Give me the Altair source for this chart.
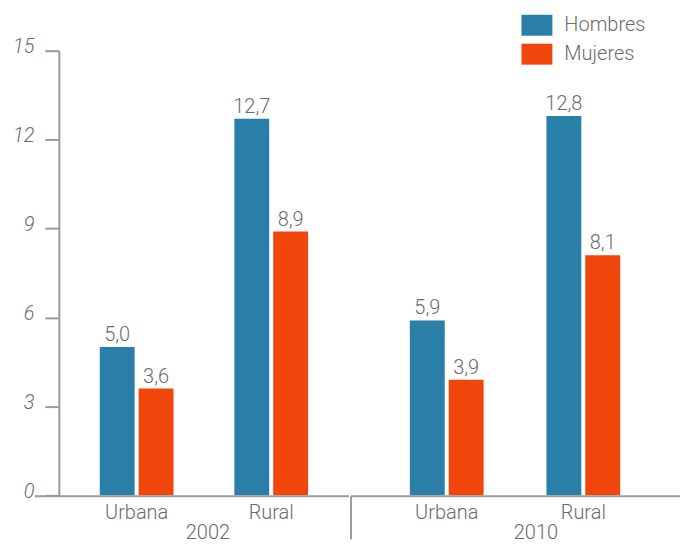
import altair as alt
import pandas as pd

anios = ["2002", "2010"]
zonas = ["Urbana", "Rural"]
sexos = ["Hombres", "Mujeres"]
# order: (2002 Urbana, 2002 Rural, 2010 Urbana, 2010 Rural)
hombres = [5.0, 12.7, 5.9, 12.8]
mujeres = [3.6, 8.9, 3.9, 8.1]
y_ticks = [0, 3, 6, 9, 12, 15]

rows = []
i = 0
for a in anios:
    for z in zonas:
        rows.append({"anio": a, "zona": z, "sexo": "Hombres", "valor": hombres[i]})
        rows.append({"anio": a, "zona": z, "sexo": "Mujeres", "valor": mujeres[i]})
        i += 1
df = pd.DataFrame(rows)

FONT = "Roboto"
FW = 300
FS = 20
GRAY = "#6b6b6b"
LINE = "#9a9a9a"
BLUE = "#2a7fa9"
ORANGE = "#f0450b"
H = 446
YSCALE = alt.Scale(domain=[0, 15], nice=False)


def panel(year, width, x_scale, show_y, title_x):
    d = df[df["anio"] == year]
    base = alt.Chart(d)
    y_axis = None
    if show_y:
        y_axis = alt.Axis(
            values=y_ticks, title=None, grid=False,
            domainColor=LINE, domainWidth=2, tickColor=LINE, tickWidth=2,
            tickSize=14, labelFontStyle="italic", labelColor=GRAY,
            labelFontSize=FS, labelFont=FONT, labelFontWeight=FW,
            labelPadding=11, labelOffset=-4,
        )
    bars = base.mark_bar().encode(
        x=alt.X("zona:N", sort=zonas, scale=x_scale,
                axis=alt.Axis(title=year, labelAngle=0, domain=False, ticks=False,
                              labelFontSize=FS, labelColor=GRAY, labelFont=FONT,
                              labelFontWeight=FW, labelPadding=7,
                              titleFontSize=FS, titleFontWeight=FW, titleFont=FONT,
                              titleColor=GRAY, titlePadding=0, titleX=title_x)),
        xOffset=alt.XOffset("sexo:N", sort=sexos,
                            scale=alt.Scale(paddingInner=0.103, paddingOuter=0)),
        y=alt.Y("valor:Q", scale=YSCALE, axis=y_axis),
        color=alt.Color("sexo:N", scale=alt.Scale(domain=sexos, range=[BLUE, ORANGE]),
                        legend=alt.Legend(
                            title=None, orient="none", legendX=469, legendY=-36,
                            symbolType="M-1.476,-1H1.476V1H-1.476Z", symbolSize=441,
                            symbolStrokeWidth=0, labelFontSize=FS, labelColor=GRAY,
                            labelFont=FONT, labelFontWeight=FW, labelOffset=17,
                            rowPadding=8, padding=0)),
    )
    labels = base.transform_calculate(
        etiqueta="replace(format(datum.valor, '.1f'), '.', ',')"
    ).mark_text(baseline="alphabetic", dy=-6, fontSize=FS, font=FONT, fontWeight=FW,
                color=GRAY).encode(
        x=alt.X("zona:N", sort=zonas),
        xOffset=alt.XOffset("sexo:N", sort=sexos),
        y=alt.Y("valor:Q", scale=YSCALE),
        text="etiqueta:N",
    )
    one = alt.Chart(pd.DataFrame({"k": [0]}))
    x0 = -24 if show_y else 0
    axis_line = one.mark_rule(color=LINE, strokeWidth=2).encode(
        x=alt.value(x0), x2=alt.value(width), y=alt.value(H + 1))
    layers = [bars, axis_line, labels]
    if not show_y:
        sep = one.mark_rule(color=LINE, strokeWidth=2).encode(
            x=alt.value(0), y=alt.value(H + 1), y2=alt.value(H + 44))
        layers.append(sep)
    return alt.layer(*layers).properties(width=width, height=H)


left = panel("2002", 291,
             alt.Scale(paddingInner=0.452, paddingOuter=0.304, round=False), True, 149)
right = panel("2010", 330,
              alt.Scale(paddingInner=0.46, paddingOuter=0.4345, align=0.496, round=False),
              False, 185)

chart = alt.hconcat(left, right, spacing=0).resolve_scale(
    x="independent", xOffset="independent"
).properties(
    padding={"left": 4, "top": 6, "right": 0, "bottom": 0}
).configure_view(stroke=None)

chart.save("out.html", embed_options={"renderer": "svg", "actions": False})
